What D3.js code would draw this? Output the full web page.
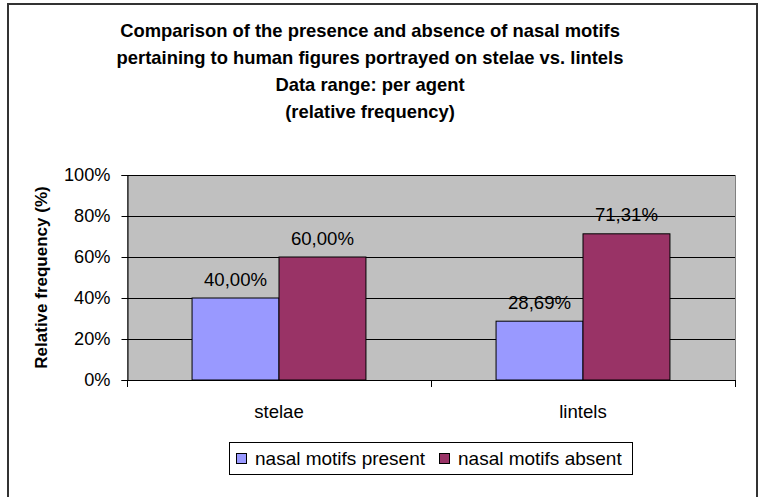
<!DOCTYPE html>
<html>
<head>
<meta charset="utf-8">
<script src="https://cdn.jsdelivr.net/npm/d3@7"></script>
<style>
  body { margin: 0; background: #fff; }
  svg { display: block; font-family: "Liberation Sans", Arial, sans-serif; }
</style>
</head>
<body>
<div id="chart"></div>
<script>
// chart data
const categories = ["stelae", "lintels"];
const seriesNames = ["nasal motifs present", "nasal motifs absent"];
const present = [40.00, 28.69];
const absent = [60.00, 71.31];
const seriesColors = ["#9999FF", "#993366"];
const yTicks = [0, 20, 40, 60, 80, 100];
const titleLines = [
  "Comparison of the presence and absence of nasal motifs",
  "pertaining to human figures portrayed on stelae vs. lintels",
  "Data range: per agent",
  "(relative frequency)"
];

const width = 767, height = 497;
// plot area bounds
const plot = {left: 127, right: 735, top: 175, bottom: 380};
const fs = "18.6px";

const svg = d3.select("#chart").append("svg")
  .attr("width", width)
  .attr("height", height);

// outer chart frame (bottom runs off the page)
svg.append("rect")
  .attr("x", 8).attr("y", 4)
  .attr("width", 749).attr("height", 520)
  .attr("fill", "#fff")
  .attr("stroke", "#333").attr("stroke-width", 2);

// title
svg.append("g").selectAll("text")
  .data(titleLines)
  .join("text")
    .attr("x", 370)
    .attr("y", (d, i) => 37 + i * 27)
    .attr("text-anchor", "middle")
    .attr("font-size", "18.4px")
    .attr("font-weight", "bold")
    .attr("fill", "#000")
    .text(d => d);

const x0 = d3.scaleBand()
  .domain(categories)
  .range([plot.left, plot.right])
  .paddingInner(0.428)
  .paddingOuter(0.214);

const x1 = d3.scaleBand()
  .domain(seriesNames)
  .range([0, x0.bandwidth()]);

const y = d3.scaleLinear()
  .domain([0, 100])
  .range([plot.bottom, plot.top]);

// plot background
svg.append("rect")
  .attr("x", plot.left + 0.5).attr("y", plot.top + 0.5)
  .attr("width", plot.right - plot.left)
  .attr("height", plot.bottom - plot.top)
  .attr("fill", "#C0C0C0")
  .attr("stroke", "#808080");

// gridlines
svg.append("g").selectAll("line")
  .data(yTicks.filter(d => d > 0))
  .join("line")
    .attr("x1", plot.left).attr("x2", plot.right)
    .attr("y1", d => Math.round(y(d)) + 0.5)
    .attr("y2", d => Math.round(y(d)) + 0.5)
    .attr("stroke", "#000").attr("stroke-width", 1);

// bars
const rows = categories.map((c, i) => ({cat: c, vals: [present[i], absent[i]]}));
const groups = svg.append("g").selectAll("g")
  .data(rows)
  .join("g")
    .attr("transform", d => `translate(${x0(d.cat)},0)`);

groups.selectAll("rect")
  .data(d => d.vals.map((v, j) => ({name: seriesNames[j], v: v, j: j})))
  .join("rect")
    .attr("x", d => x1(d.name))
    .attr("y", d => y(d.v))
    .attr("width", x1.bandwidth())
    .attr("height", d => plot.bottom - y(d.v))
    .attr("fill", d => seriesColors[d.j])
    .attr("stroke", "#000").attr("stroke-width", 1);

groups.selectAll("text")
  .data(d => d.vals.map((v, j) => ({name: seriesNames[j], v: v})))
  .join("text")
    .attr("x", d => x1(d.name) + x1.bandwidth() / 2)
    .attr("y", d => y(d.v) - 12.5)
    .attr("text-anchor", "middle")
    .attr("font-size", fs)
    .attr("fill", "#000")
    .text(d => d.v.toFixed(2).replace(".", ",") + "%");

// y axis
const yAxis = svg.append("g")
  .attr("transform", `translate(${plot.left + 0.5},0)`)
  .call(d3.axisLeft(y).tickValues(yTicks).tickSize(6).tickPadding(11)
    .tickFormat(d => d + "%"));
yAxis.select(".domain").attr("stroke", "#000");
yAxis.selectAll(".tick line").attr("stroke", "#000");
yAxis.selectAll(".tick text")
  .attr("font-size", "18.2px")
  .attr("font-family", "Liberation Sans, Arial, sans-serif")
  .attr("fill", "#000");

// x axis line and category ticks
svg.append("line")
  .attr("x1", plot.left).attr("x2", plot.right)
  .attr("y1", plot.bottom + 0.5).attr("y2", plot.bottom + 0.5)
  .attr("stroke", "#000");
const xTickPos = [plot.left].concat(categories.map(c => x0(c) + x0.bandwidth() / 2 + x0.step() / 2));
svg.append("g").selectAll("line")
  .data(xTickPos)
  .join("line")
    .attr("x1", d => Math.round(d) + 0.5).attr("x2", d => Math.round(d) + 0.5)
    .attr("y1", plot.bottom).attr("y2", plot.bottom + 7)
    .attr("stroke", "#000");
svg.append("g").selectAll("text")
  .data(categories)
  .join("text")
    .attr("x", d => x0(d) + x0.bandwidth() / 2)
    .attr("y", 418)
    .attr("text-anchor", "middle")
    .attr("font-size", fs)
    .attr("fill", "#000")
    .text(d => d);

// y axis title
svg.append("text")
  .attr("transform", `translate(47,${(plot.top + plot.bottom) / 2}) rotate(-90)`)
  .attr("text-anchor", "middle")
  .attr("font-size", "17px")
  .attr("font-weight", "bold")
  .attr("fill", "#000")
  .text("Relative frequency (%)");

// legend
const legend = svg.append("g");
legend.append("rect")
  .attr("x", 229.5).attr("y", 442.5)
  .attr("width", 403).attr("height", 32)
  .attr("fill", "#fff").attr("stroke", "#000");
const legX = [236, 439];
seriesNames.forEach((s, i) => {
  legend.append("rect")
    .attr("x", legX[i] + 0.5).attr("y", 453.5)
    .attr("width", 10).attr("height", 10)
    .attr("fill", seriesColors[i]).attr("stroke", "#000");
  legend.append("text")
    .attr("x", legX[i] + 19).attr("y", 465)
    .attr("font-size", "19px")
    .attr("fill", "#000")
    .text(s);
});
</script>
</body>
</html>
